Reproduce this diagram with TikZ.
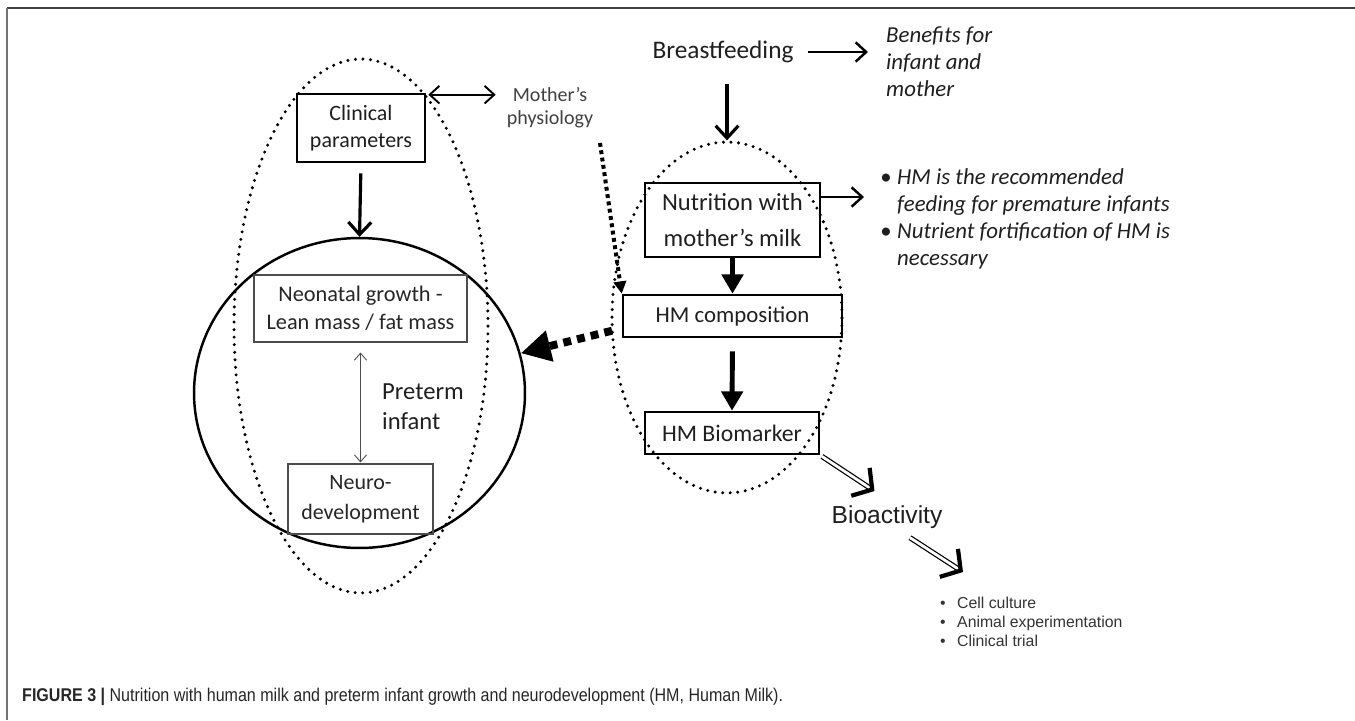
\documentclass[tikz,border=0pt]{standalone}
\usepackage{fontspec}
\setmainfont{Carlito}
\newfontfamily\arialfont{Liberation Sans}
\newfontfamily\capfont[FakeStretch=0.87]{Liberation Sans}
\usetikzlibrary{arrows.meta, shapes.geometric}

\tikzset{
    box/.style={draw, line width=1.5pt, inner sep=0pt, align=center},
    thinbox/.style={draw, line width=0.6pt, black!70, text=black!85, inner sep=0pt, align=center},
    dotring/.style={ellipse, draw, line width=1.9pt, dash pattern=on 0pt off 4.3pt, line cap=round, inner sep=0pt},
    arr/.style={line width=1.8pt, -{Straight Barb[length=7pt,width=13pt]}},
    thinarr/.style={line width=1.4pt, -{Straight Barb[length=6pt,width=11pt]}},
    fatarr/.style={line width=2.8pt, -{Triangle[length=11pt,width=12pt]}},
    dblarr/.style={double, double distance=1.6pt, line width=0.7pt, -{Straight Barb[length=8pt,width=19pt,line width=2.4pt]}},
    bigdash/.style={line width=4.5pt, dash pattern=on 4.5pt off 3.5pt, -{Triangle[length=17pt,width=17pt]}},
    sqdots/.style={line width=2.3pt, dash pattern=on 2.2pt off 2pt, -{Triangle[length=7pt,width=7pt]}}
}

\begin{document}
\begin{tikzpicture}[x=0.02cm, y=-0.02cm, text=black!88]
    \useasboundingbox (0,0) rectangle (1355,720);

    % Frame
    \draw[line width=1.2pt, black!75] (7,8) -- (1355,8);
    \draw[line width=1.2pt, black!55] (7,8) -- (7,720);

    % Dotted groups
    \node[dotring, minimum width=5.08cm, minimum height=10.68cm] (left) at (361,326) {};
    \node[dotring, minimum width=4.6cm, minimum height=7.02cm] (milk) at (727,317.5) {};

    % Preterm infant
    \node[ellipse, draw, line width=1.4pt, minimum width=6.62cm, minimum height=6.2cm] (infant) at (359.5,393) {};
    \node[box, minimum width=2.56cm, minimum height=1.36cm, font=\fontsize{12.5}{15.3}\selectfont] (clin) at (361,128) {Clinical\\parameters};
    \node[thinbox, minimum width=4.26cm, minimum height=1.34cm, font=\fontsize{12.7}{15.9}\selectfont] (neo) at (360.5,308.5) {Neonatal growth -\\Lean mass / fat mass};
    \node[thinbox, minimum width=2.9cm, minimum height=1.4cm, font=\fontsize{12.5}{17}\selectfont] (neuro) at (360.5,499) {Neuro-\\development};
    \node[anchor=west, align=left, font=\fontsize{14}{17}\selectfont] (pre) at (376,407) {Preterm\\infant};
    \node[align=center, text=black!75, font=\fontsize{11.4}{13}\selectfont] (moth) at (550,108) {Mother's\\physiology};

    % Human milk
    \node[font=\fontsize{14.4}{17}\selectfont] (bf) at (723,52) {Breastfeeding};
    \node[anchor=west, align=left, font=\fontsize{13}{15.3}\itshape] (ben) at (880,62) {Benefits for\\infant and\\mother};
    \node[box, minimum width=3.5cm, minimum height=1.48cm, font=\fontsize{14}{21}\selectfont] (nut) at (732.5,220) {Nutrition with\\mother's milk};
    \node[anchor=west, align=left, font=\fontsize{13}{15.3}\itshape] (hmtxt) at (874,219)
        {\makebox[0.34cm][l]{•}HM is the recommended\\\hspace*{0.34cm}feeding for premature infants\\\makebox[0.34cm][l]{•}Nutrient fortification of HM is\\\hspace*{0.34cm}necessary};
    \node[box, minimum width=4.38cm, minimum height=0.84cm, font=\fontsize{13}{15}\selectfont] (comp) at (732.5,316) {HM composition};
    \node[box, minimum width=3.48cm, minimum height=0.84cm, font=\fontsize{13.5}{15}\selectfont] (bio) at (732,433) {HM Biomarker};

    % Bioactivity
    \node[font=\arialfont\fontsize{14}{16}\selectfont] (bioact) at (887,517) {Bioactivity};
    \node[anchor=west, align=left, text=black!80, font=\arialfont\fontsize{9}{11}\selectfont] (list) at (934,622)
        {\makebox[0.34cm][l]{•}Cell culture\\\makebox[0.34cm][l]{•}Animal experimentation\\\makebox[0.34cm][l]{•}Clinical trial};
    \coordinate (lst) at (963,572);
    \coordinate (mdot) at (600,143);

    % Connectors
    \draw[arr, shorten <=0.2cm] (clin.south) -- (infant.north);
    \draw[line width=0.5pt, black!70, {Straight Barb[length=4pt,width=7pt]}-{Straight Barb[length=4pt,width=7pt]}, shorten <=0.2cm, shorten >=0.02cm] (neo.south) -- (neuro.north);
    \draw[line width=1.1pt, {Straight Barb[length=5.5pt,width=10pt]}-{Straight Barb[length=5.5pt,width=10pt]}, shorten <=0.04cm, shorten >=0.1cm] ([yshift=-0.04cm]clin.north east) -- ([yshift=-0.04cm]clin.north east -| moth.west);
    \draw[sqdots] (mdot) -- (comp.north west);
    \draw[thinarr, shorten <=0.16cm, shorten >=0.24cm] (bf.east) -- (bf.east -| ben.west);
    \draw[arr, shorten <=0.3cm] (bf.south -| milk.north) -- (milk.north);
    \draw[thinarr, shorten >=0.2cm] ([yshift=0.46cm]nut.east) -- ([yshift=0.46cm]nut.east -| hmtxt.west);
    \draw[fatarr] (nut.south) -- (comp.north);
    \draw[bigdash, shorten <=0.2cm] ([yshift=0.2cm]comp.south west) -- (infant);
    \draw[fatarr, shorten <=0.26cm] (comp.south) -- (bio.north);
    \draw[dblarr, shorten <=0.04cm, shorten >=0.3cm] (bio.south east) -- (bioact.north);
    \draw[dblarr] ([xshift=0.46cm, yshift=-0.06cm]bioact.south) -- (lst);

    % Caption
    \node[anchor=west, font=\capfont\fontsize{10.5}{12}\selectfont, text=black!85] (cap) at (16,697)
        {\textbf{FIGURE 3 |} Nutrition with human milk and preterm infant growth and neurodevelopment (HM, Human Milk).};
\end{tikzpicture}
\end{document}
